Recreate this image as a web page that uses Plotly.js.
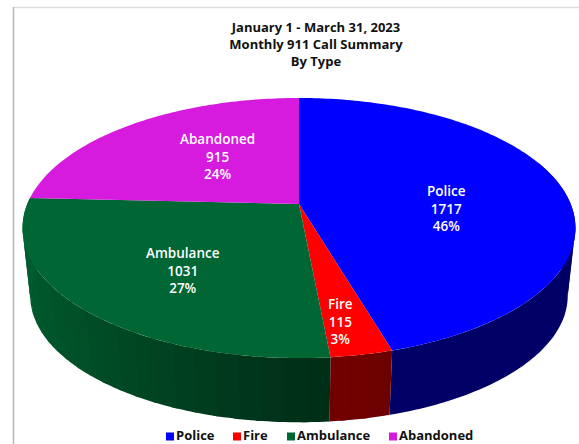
<!DOCTYPE html>
<html>
<head>
<meta charset="utf-8">
<script src="https://cdn.plot.ly/plotly-3.0.1.min.js"></script>
<style>html,body{margin:0;padding:0;background:#fff}#chart{width:579px;height:444px}</style>
</head>
<body>
<div id="chart"></div>
<script>
// Call volumes by type
const categories = ['Police', 'Fire', 'Ambulance', 'Abandoned'];
const callCounts = [1717, 115, 1031, 915];
const percentLabels = ['46%', '3%', '27%', '24%'];
const topColors = ['#0000ff', '#ff0000', '#006633', '#d61ade'];
const wallRGB = [[0, 0, 255], [255, 0, 0], [0, 102, 51], [214, 26, 222]];

// Label and legend placement, in page pixels
const labelX = [446, 340.5, 183, 217];
const labelY = [208, 321, 270, 156];
const legendX = [170, 237, 291, 393];
const legendY = 436.5;

// Perspective model of the disc
const cx = 299, apexTop = 204, apexBottom = 272.5;
const scaleX = 271.7, scaleY = 125.6, tilt = 0.1847, bottomScale = 0.972;

function project(deg, r, apexY, s) {
  const a = deg * Math.PI / 180;
  const u = r * Math.sin(a), v = r * Math.cos(a), w = 1 + tilt * v;
  return [cx + s * scaleX * u / w, apexY - s * scaleY * v / w];
}

const total = callCounts.reduce((a, b) => a + b, 0);
let running = 0;
const spans = callCounts.map(c => {
  const s = [running / total * 360, (running + c) / total * 360];
  running += c;
  return s;
});

// Wall brightness: lit from the left, darkest at the front of the disc
function shadeAt(i, deg) {
  if (i === 0) return 0.4;
  if (deg <= 180) return 0.47 - 0.05 * (180 - deg) / (180 - spans[1][0]);
  return 0.47 + 0.43 * Math.abs(Math.sin(deg * Math.PI / 180));
}

const traces = [];
function polygon(pts, color) {
  traces.push({
    type: 'scatter', mode: 'lines', fill: 'toself', fillcolor: color,
    x: pts.map(p => p[0]), y: pts.map(p => p[1]),
    line: {color: color, width: 0, simplify: false}, hoverinfo: 'skip', showlegend: false
  });
}

// A stretch of side wall between two angles on the rim
function wallBand(a, b, color) {
  const pts = [];
  for (let d = a; d < b; d += 1) pts.push(project(d, 1, apexTop, 1));
  pts.push(project(b, 1, apexTop, 1));
  pts.push(project(b, 1, apexBottom, bottomScale));
  for (let d = b - 1; d > a; d -= 1) pts.push(project(d, 1, apexBottom, bottomScale));
  pts.push(project(a, 1, apexBottom, bottomScale));
  pts.push(pts[0]);
  polygon(pts, color);
}

// Police wall is one flat tone; it is split at the right-hand silhouette,
// where the rim folds back on itself and a single outline would cancel out
const policeTone = `rgb(${wallRGB[0].map(x => Math.round(x * shadeAt(0, 0))).join(',')})`;
wallBand(70, 101, policeTone);
wallBand(100, spans[0][1], policeTone);

// Fire and ambulance walls: each band overlaps the next so no seams show
[1, 2].forEach(i => {
  const from = spans[i][0], to = spans[i][1];
  const step = 4;
  const order = [];
  for (let a = from; a < to; a += step) order.push(a);
  order.forEach(a => {
    const c = wallRGB[i].map(x => Math.round(x * shadeAt(i, Math.min(a + step / 2, to))));
    wallBand(a, Math.min(a + step + 1, to), `rgb(${c.join(',')})`);
  });
});

// Top face of each slice
spans.forEach((span, i) => {
  const pts = [[cx, apexTop]];
  const n = Math.ceil(span[1] - span[0]);
  for (let k = 0; k <= n; k++) {
    pts.push(project(span[0] + (span[1] - span[0]) * k / n, 1, apexTop, 1));
  }
  pts.push([cx, apexTop]);
  polygon(pts, topColors[i]);
});

// Legend row: square swatch with its name beside it
categories.forEach((name, i) => {
  traces.push({
    type: 'scatter', mode: 'markers+text', name: name,
    x: [legendX[i]], y: [legendY], text: [name], textposition: 'middle right',
    marker: {symbol: 'square', size: 8, color: topColors[i]},
    textfont: {family: 'Open Sans', size: 13, color: '#111', weight: 700},
    cliponaxis: false, hoverinfo: 'skip', showlegend: false
  });
});

const annotations = categories.map((name, i) => ({
  xref: 'x', yref: 'y', x: labelX[i], y: labelY[i], showarrow: false,
  xanchor: 'center', yanchor: 'middle', align: 'center',
  text: `${name}<br>${callCounts[i]}<br>${percentLabels[i]}`,
  font: {family: 'Open Sans', size: 13.5, color: '#ffffff', weight: 600}
}));

const layout = {
  width: 579, height: 444, margin: {l: 0, r: 0, t: 0, b: 0},
  paper_bgcolor: '#ffffff', plot_bgcolor: '#ffffff', showlegend: false,
  title: {
    text: 'January 1 - March 31, 2023<br>Monthly 911 Call Summary<br>By Type',
    font: {family: 'Open Sans', size: 13, color: '#111', weight: 700},
    x: 316 / 579, xanchor: 'center', y: 1 - 32 / 444, yanchor: 'top'
  },
  xaxis: {range: [0, 579], visible: false, fixedrange: true},
  yaxis: {range: [444, 0], visible: false, fixedrange: true},
  annotations: annotations,
  shapes: [
    {type: 'line', xref: 'paper', yref: 'paper', x0: 13 / 579, x1: 1, y0: 1 - 7.5 / 444, y1: 1 - 7.5 / 444,
     line: {color: '#dddddd', width: 1.5}},
    {type: 'line', xref: 'paper', yref: 'paper', x0: 13.5 / 579, x1: 13.5 / 579, y0: 0, y1: 1 - 7 / 444,
     line: {color: '#b9b9b9', width: 1.5}}
  ]
};

Plotly.newPlot('chart', traces, layout, {displayModeBar: false, staticPlot: true});
</script>
</body>
</html>
